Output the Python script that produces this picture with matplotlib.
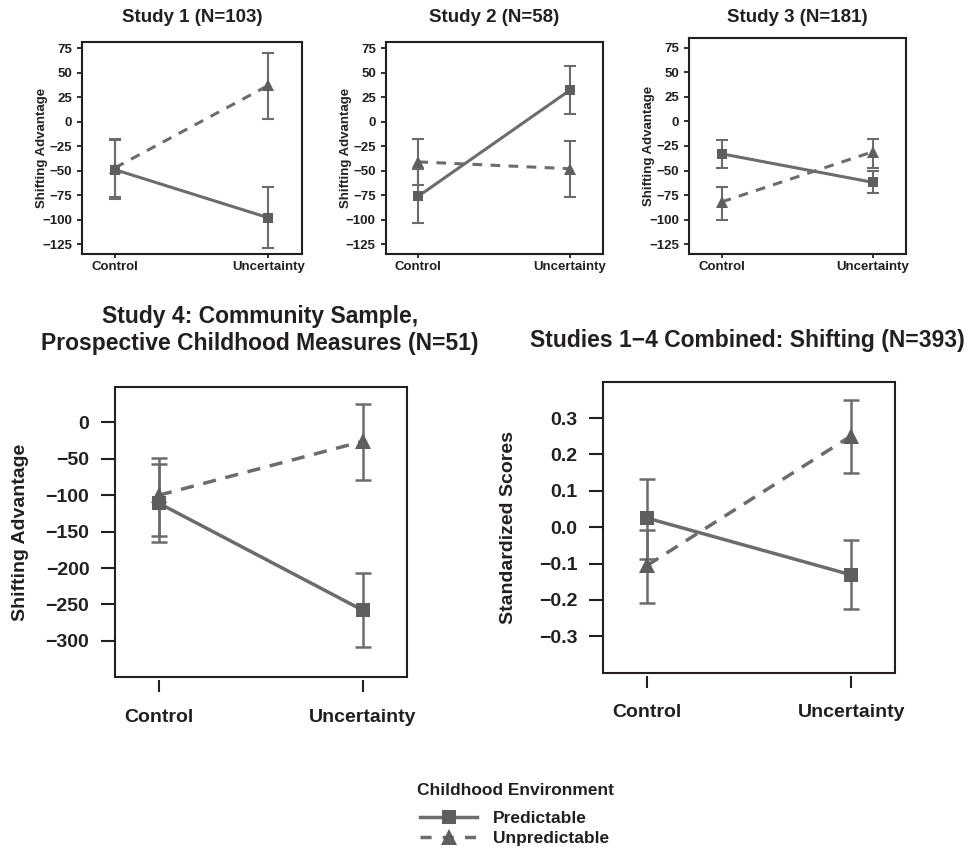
import matplotlib
matplotlib.use('Agg')
import matplotlib.pyplot as plt
from matplotlib.lines import Line2D
from matplotlib.patches import Rectangle

plt.rcParams['font.family'] = ['Liberation Sans', 'DejaVu Sans']
plt.rcParams['font.weight'] = 'bold'
plt.rcParams['lines.scale_dashes'] = False

W, H = 971, 847
ink = '#231f20'
line_col = '#6b6c6e'
mark_col = '#5d5e60'

conditions = ['Control', 'Uncertainty']

# Study 1 (N=103)
s1_pred_mean = [-49, -98]
s1_pred_lo = [-79, -129]
s1_pred_hi = [-19, -67]
s1_unpred_mean = [-47, 37]
s1_unpred_lo = [-77, 3]
s1_unpred_hi = [-18, 70]

# Study 2 (N=58)
s2_pred_mean = [-76, 32]
s2_pred_lo = [-103, 8]
s2_pred_hi = [-48, 57]
s2_unpred_mean = [-41, -48]
s2_unpred_lo = [-65, -77]
s2_unpred_hi = [-18, -20]

# Study 3 (N=181)
s3_pred_mean = [-33, -62]
s3_pred_lo = [-47, -73]
s3_pred_hi = [-19, -51]
s3_unpred_mean = [-82, -31]
s3_unpred_lo = [-100, -47]
s3_unpred_hi = [-67, -18]

# Study 4 (N=51)
s4_pred_mean = [-111, -258]
s4_pred_lo = [-164, -308]
s4_pred_hi = [-57, -207]
s4_unpred_mean = [-100, -26]
s4_unpred_lo = [-156, -79]
s4_unpred_hi = [-49, 25]

# Studies 1-4 combined (N=393)
all_pred_mean = [0.025, -0.131]
all_pred_lo = [-0.087, -0.224]
all_pred_hi = [0.133, -0.036]
all_unpred_mean = [-0.105, 0.251]
all_unpred_lo = [-0.208, 0.150]
all_unpred_hi = [-0.009, 0.350]

top_ticks = [-125, -100, -75, -50, -25, 0, 25, 50, 75]
s4_ticks = [-300, -250, -200, -150, -100, -50, 0]
all_ticks = [-0.3, -0.2, -0.1, 0.0, 0.1, 0.2, 0.3]


def rect(l, t, r, b):
    return [l / W, 1 - b / H, (r - l) / W, (b - t) / H]


def fmt(v, dec=0):
    s = f'{v:.{dec}f}'
    if s.startswith('-') and float(s) != 0:
        s = '\u2212' + s[1:]
    return s.replace('-', '')


def draw(ax, pm, plo, phi, um, ulo, uhi, big):
    x = [0, 1]
    lw = 2.5 if big else 2.2
    elw = 1.8 if big else 1.5
    cap = 6 if big else 4
    ms_s = 10 if big else 7
    ms_t = 12 if big else 8.5
    dash = (9.5, 7) if big else (7, 6)
    for m, lo, hi in [(um, ulo, uhi), (pm, plo, phi)]:
        ax.errorbar(x, m, yerr=[[a - b for a, b in zip(m, lo)], [b - a for a, b in zip(m, hi)]],
                    fmt='none', ecolor=line_col, elinewidth=elw, capsize=cap, capthick=elw, zorder=2)
    ax.plot(x, um, color=line_col, lw=lw, ls=(0, dash), zorder=3)
    ax.plot(x, um, ls='none', marker='^', ms=ms_t, mfc=mark_col, mec=mark_col, mew=0, zorder=4)
    ax.plot(x, pm, color=line_col, lw=lw, zorder=3)
    ax.plot(x, pm, ls='none', marker='s', ms=ms_s, mfc=mark_col, mec=mark_col, mew=0, zorder=5)
    ax.set_xticks(x, conditions)


fig = plt.figure(figsize=(W / 100, H / 100), dpi=100)

top = [
    (rect(82, 42.3, 302, 254), (-135, 81), 'Study 1 (N=103)',
     (s1_pred_mean, s1_pred_lo, s1_pred_hi, s1_unpred_mean, s1_unpred_lo, s1_unpred_hi)),
    (rect(385.7, 42.3, 603, 254), (-135, 81), 'Study 2 (N=58)',
     (s2_pred_mean, s2_pred_lo, s2_pred_hi, s2_unpred_mean, s2_unpred_lo, s2_unpred_hi)),
    (rect(689, 37.7, 905.7, 254), (-135, 85.2), 'Study 3 (N=181)',
     (s3_pred_mean, s3_pred_lo, s3_pred_hi, s3_unpred_mean, s3_unpred_lo, s3_unpred_hi)),
]

for pos, ylim, title, d in top:
    ax = fig.add_axes(pos)
    draw(ax, *d, big=False)
    ax.set_xlim(-0.216, 1.22)
    ax.set_ylim(*ylim)
    ax.set_yticks(top_ticks, [fmt(v) for v in top_ticks])
    ax.tick_params(axis='y', length=3.6, width=1.3, pad=3.5, labelsize=9.5, colors=ink)
    ax.tick_params(axis='x', length=3, width=1.3, pad=2, labelsize=9.5, colors=ink)
    for sp in ax.spines.values():
        sp.set_linewidth(1.5)
        sp.set_color(ink)
    l = pos[0] * W
    cy = (1 - pos[1] - pos[3] / 2) * H
    cx = (pos[0] + pos[2] / 2) * W
    fig.text((l - 40) / W, 1 - cy / H, 'Shifting Advantage', rotation=90,
             ha='center', va='center', fontsize=9.5, color=ink)
    fig.text(cx / W, 1 - 17 / H, title, ha='center', va='center', fontsize=13.5, color=ink)

bottom = [
    (rect(115, 386.7, 406.7, 677.3), (-350, 49), s4_ticks, 0, 'Shifting Advantage',
     (s4_pred_mean, s4_pred_lo, s4_pred_hi, s4_unpred_mean, s4_unpred_lo, s4_unpred_hi)),
    (rect(603.3, 381.7, 895, 672.7), (-0.4, 0.4), all_ticks, 1, 'Standardized Scores',
     (all_pred_mean, all_pred_lo, all_pred_hi, all_unpred_mean, all_unpred_lo, all_unpred_hi)),
]

for pos, ylim, ticks, dec, ylab, d in bottom:
    ax = fig.add_axes(pos)
    draw(ax, *d, big=True)
    ax.set_xlim(-0.215, 1.215)
    ax.set_ylim(*ylim)
    ax.set_yticks(ticks, [fmt(v, dec) for v in ticks])
    ax.tick_params(axis='y', length=10, width=1.5, pad=8.5, labelsize=14, colors=ink)
    ax.tick_params(axis='x', length=8.6, width=1.5, pad=12, labelsize=14, colors=ink)
    for sp in ax.spines.values():
        sp.set_visible(False)
    ax.spines['bottom'].set_position(('outward', 2.2))
    ax.add_patch(Rectangle((0, 0), 1, 1, transform=ax.transAxes, fill=False,
                           lw=1.5, ec=ink, clip_on=False, zorder=6))
    l = pos[0] * W
    cy = (1 - pos[1] - pos[3] / 2) * H
    fig.text((l - 94.5) / W, 1 - cy / H, ylab, rotation=90,
             ha='center', va='center', fontsize=14, color=ink)

fig.text(260 / W, 1 - 330 / H, 'Study 4: Community Sample,\nProspective Childhood Measures (N=51)',
         ha='center', va='center', fontsize=16.5, color=ink, linespacing=1.2)
fig.text(747 / W, 1 - 340 / H, 'Studies 1\u22124 Combined: Shifting (N=393)',
         ha='center', va='center', fontsize=16.5, color=ink)

# legend
fig.text(417 / W, 1 - 790.7 / H, 'Childhood Environment', ha='left', va='center',
         fontsize=12.5, color=ink)
handles = [
    Line2D([], [], color=line_col, lw=2.5, marker='s', ms=9.5, mfc=mark_col, mec=mark_col, mew=0),
    Line2D([], [], color=line_col, lw=2.5, ls=(0, (8, 8)), marker='^', ms=12,
           mfc=mark_col, mec=mark_col, mew=0),
]
leg = fig.legend(handles, ['Predictable', 'Unpredictable'], loc='upper left',
                 bbox_to_anchor=(420 / W, 1 - 810.5 / H), frameon=False, fontsize=12.5,
                 handlelength=3.3, handletextpad=0.9, labelspacing=0.3,
                 borderpad=0, borderaxespad=0)
for t in leg.get_texts():
    t.set_color(ink)

fig.savefig('out.png', dpi=100)
